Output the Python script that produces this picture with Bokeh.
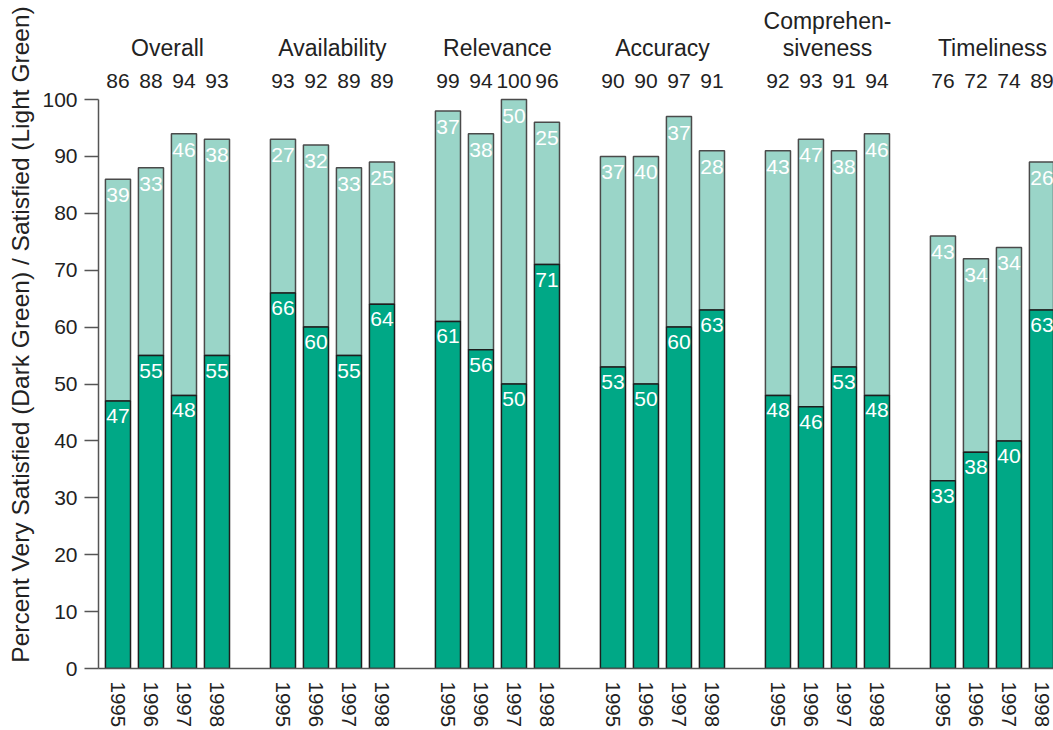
from bokeh.plotting import figure
from bokeh.models import ColumnDataSource, FixedTicker, Range1d
from bokeh.core.properties import value
from bokeh.embed import file_html
from bokeh.resources import INLINE

# Satisfaction survey results by aspect and year
categories = ["Overall", "Availability", "Relevance", "Accuracy",
              "Comprehen-\nsiveness", "Timeliness"]
years = ["1995", "1996", "1997", "1998"]

very_satisfied = [
    [47, 55, 48, 55],
    [66, 60, 55, 64],
    [61, 56, 50, 71],
    [53, 50, 60, 63],
    [48, 46, 53, 48],
    [33, 38, 40, 63],
]
satisfied = [
    [39, 33, 46, 38],
    [27, 32, 33, 25],
    [37, 38, 50, 25],
    [37, 40, 37, 28],
    [43, 47, 38, 46],
    [43, 34, 34, 26],
]
totals = [
    [86, 88, 94, 93],
    [93, 92, 89, 89],
    [99, 94, 100, 96],
    [90, 90, 97, 91],
    [92, 93, 91, 94],
    [76, 72, 74, 89],
]

DARK = "#00a886"
LIGHT = "#9ad5c8"
FONT = "Liberation Sans"
SLOTS_PER_GROUP = 5  # four years plus a gap
BAR_W = 0.76

xs, labels = [], []
dark_top, light_top = [], []
dark_txt, light_txt, total_txt = [], [], []
for g, cat in enumerate(categories):
    for j, yr in enumerate(years):
        x = g * SLOTS_PER_GROUP + j
        xs.append(x)
        labels.append(yr)
        d = very_satisfied[g][j]
        s = satisfied[g][j]
        dark_top.append(d)
        light_top.append(d + s)
        dark_txt.append(str(d))
        light_txt.append(str(s))
        total_txt.append(str(totals[g][j]))

bars = ColumnDataSource(dict(x=xs, dark=dark_top, stack=light_top,
                             dtxt=dark_txt, ltxt=light_txt, ttxt=total_txt,
                             zero=[0] * len(xs)))

p = figure(width=1053, height=730, output_backend="svg", toolbar_location=None,
           x_range=Range1d(-0.59, 28.35), y_range=Range1d(0, 117.4),
           min_border_left=98, min_border_right=0, min_border_top=0,
           min_border_bottom=61)
p.outline_line_color = None
p.xgrid.visible = False
p.ygrid.visible = False

# stacked bars: light (satisfied) above dark (very satisfied)
p.vbar(x="x", width=BAR_W, bottom="dark", top="stack", source=bars,
       fill_color=LIGHT, line_color="#4a4a4a", line_width=1.5)
p.vbar(x="x", width=BAR_W, bottom="zero", top="dark", source=bars,
       fill_color=DARK, line_color="#1e1e1e", line_width=1.5)

# segment values in white, just inside the top of each segment
p.text(x="x", y="dark", text="dtxt", source=bars, text_color="white",
       text_font=value(FONT), text_font_size="21px", text_align="center",
       text_baseline="top", y_offset=8)
p.text(x="x", y="stack", text="ltxt", source=bars, text_color="white",
       text_font=value(FONT), text_font_size="21px", text_align="center",
       text_baseline="top", y_offset=9)

# totals row above the plot area
TOTAL_Y = 103.3
p.text(x="x", y=TOTAL_Y, text="ttxt", source=bars, text_color="#222222",
       text_font=value(FONT), text_font_size="21px", text_align="center",
       text_baseline="middle")

# category titles, centred over each group of four bars
TITLE_Y = 109.1
LINE_STEP = 4.74
tx, ty, tt = [], [], []
for g, cat in enumerate(categories):
    lines = cat.split("\n")
    cx = g * SLOTS_PER_GROUP + (len(years) - 1) / 2
    for k, line in enumerate(lines):
        tx.append(cx)
        ty.append(TITLE_Y + (len(lines) - 1 - k) * LINE_STEP)
        tt.append(line)
p.text(x=tx, y=ty, text=tt, text_color="#222222", text_font=value(FONT),
       text_font_size="23px", text_align="center", text_baseline="middle")

# y axis
yax = p.yaxis[0]
yax.ticker = FixedTicker(ticks=list(range(0, 101, 10)))
yax.bounds = (0, 100)
yax.axis_line_color = "#555555"
yax.axis_line_width = 1.5
yax.major_tick_line_color = "#555555"
yax.major_tick_line_width = 1.5
yax.major_tick_out = 14
yax.major_tick_in = 0
yax.minor_tick_line_color = None
yax.major_label_text_font = FONT
yax.major_label_text_font_size = "21px"
yax.major_label_text_color = "#222222"
yax.major_label_standoff = 7
yax.axis_label = "Percent Very Satisfied (Dark Green) / Satisfied (Light Green)"
yax.axis_label_text_font = FONT
yax.axis_label_text_font_size = "24.5px"
yax.axis_label_text_font_style = "normal"
yax.axis_label_text_color = "#222222"
yax.axis_label_standoff = 5

# x axis: one rotated year label per bar
xax = p.xaxis[0]
xax.ticker = FixedTicker(ticks=xs)
xax.major_label_overrides = {x: lab for x, lab in zip(xs, labels)}
xax.major_label_orientation = "vertical"
xax.axis_line_color = "#555555"
xax.axis_line_width = 1.5
xax.major_tick_line_color = None
xax.minor_tick_line_color = None
xax.major_tick_out = 0
xax.major_label_text_font = FONT
xax.major_label_text_font_size = "20.5px"
xax.major_label_text_color = "#222222"
xax.major_label_standoff = 13

open("out.html", "w").write(file_html(p, INLINE))
